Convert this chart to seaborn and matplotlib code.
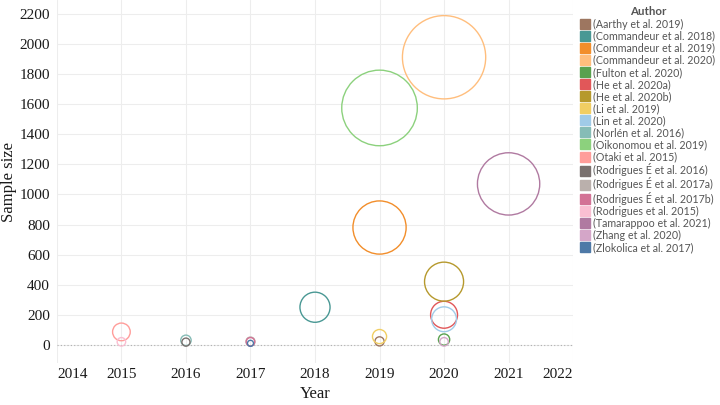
import pandas as pd
import matplotlib
matplotlib.use('Agg')
import matplotlib.pyplot as plt
from matplotlib.lines import Line2D
import seaborn as sns

authors = ['(Aarthy et al. 2019)', '(Commandeur et al. 2018)', '(Commandeur et al. 2019)',
           '(Commandeur et al. 2020)', '(Fulton et al. 2020)', '(He et al. 2020a)',
           '(He et al. 2020b)', '(Li et al. 2019)', '(Lin et al. 2020)',
           '(Norlén et al. 2016)', '(Oikonomou et al. 2019)', '(Otaki et al. 2015)',
           '(Rodrigues É et al. 2016)', '(Rodrigues É et al. 2017a)', '(Rodrigues É et al. 2017b)',
           '(Rodrigues et al. 2015)', '(Tamarappoo et al. 2021)', '(Zhang et al. 2020)',
           '(Zlokolica et al. 2017)']
years = [2019, 2018, 2019, 2020, 2020, 2020, 2020, 2019, 2020, 2016, 2019, 2015,
         2016, 2017, 2017, 2015, 2021, 2020, 2017]
sample_size = [23, 250, 780, 1912, 35, 200, 420, 55, 170, 30, 1575, 86,
               18, 22, 20, 20, 1070, 20, 10]
colors = ['#9d7660', '#499894', '#f28e2b', '#ffbe7d', '#59a14f', '#e15759',
          '#b6992d', '#f1ce63', '#a0cbe8', '#86bcb6', '#8cd17d', '#ff9d9a',
          '#79706e', '#bab0ac', '#d37295', '#fabfd2', '#b07aa1', '#d4a6c8', '#4e79a7']
year_ticks = list(range(2014, 2023))
size_ticks = list(range(0, 2201, 200))

df = pd.DataFrame({'Author': authors, 'Year': years, 'Sample size': sample_size})
palette = dict(zip(authors, colors))

sns.set_theme(style='whitegrid', rc={'grid.color': '#ededed', 'grid.linewidth': 0.8})
serif = ['Liberation Serif', 'DejaVu Serif']
plt.rcParams['font.family'] = serif

fig, ax = plt.subplots(figsize=(7.2, 4.05), dpi=100)
fig.subplots_adjust(left=0.079, right=0.796, top=0.999, bottom=0.104)

sns.scatterplot(data=df, x='Year', y='Sample size', hue='Author', palette=palette,
                size='Sample size', sizes=(0, 1.88 * 2000), size_norm=(0, 2000),
                legend=False, ax=ax, zorder=3)
pts = ax.collections[0]
pts.set_edgecolors(pts.get_facecolors())
pts.set_facecolors('none')
pts.set_linewidths(1.0)

ax.axhline(0, color='#b0b0b0', ls=(0, (1, 2)), lw=0.8, zorder=2)

ax.set_xlim(2014, 2022)
ax.set_ylim(-120, 2290)
ax.set_xticks(year_ticks)
ax.set_xticklabels([str(y) for y in year_ticks])
ax.set_yticks(size_ticks)
ax.set_yticklabels([str(v) for v in size_ticks])
for t in ax.get_xticklabels() + ax.get_yticklabels():
    t.set_fontfamily(serif)
    t.set_fontsize(11)
    t.set_color('#1a1a1a')
labels = ax.get_xticklabels()
labels[0].set_ha('left')
labels[-1].set_ha('right')
ax.tick_params(axis='both', length=0, pad=5)
ax.tick_params(axis='x', pad=4)
for s in ax.spines.values():
    s.set_visible(False)
ax.set_xlabel('Year', fontsize=12, color='#1a1a1a', labelpad=3, fontfamily=serif)
ax.set_ylabel('Sample size', fontsize=12, color='#1a1a1a', labelpad=2, fontfamily=serif)

handles = [Line2D([], [], marker='s', ls='none', markersize=7, color=palette[a])
           for a in authors]
leg = fig.legend(handles, authors, loc='upper left', bbox_to_anchor=(0.798, 1.0),
                 frameon=False, title='Author', handlelength=0.8, handletextpad=0.35,
                 labelspacing=0.1, borderaxespad=0.2,
                 prop={'family': 'Lato', 'size': 7.7})
leg.get_title().set_fontproperties({'family': 'Lato', 'size': 8.3, 'weight': 'bold'})
leg.get_title().set_color('#555555')
for t in leg.get_texts():
    t.set_color('#555555')

fig.savefig('out.png', dpi=100)
